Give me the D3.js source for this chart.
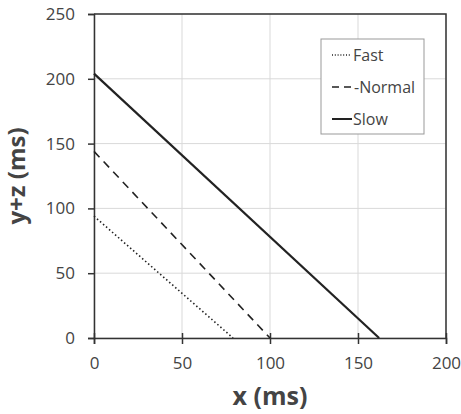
<!DOCTYPE html>
<html>
<head>
<meta charset="utf-8" />
<title>y+z vs x</title>
<script type="text/javascript" src="https://d3js.org/d3.v7.min.js"></script>
<style type="text/css">
    body { margin: 0; background: #fff; }
    text { font-family: "Open Sans", "Noto Sans", sans-serif; fill: #444; }
</style>
</head>
<body>
<svg width="461" height="414"></svg>
<script>
    // series: endpoints of each line
    var seriesNames = ["Fast", "Normal", "Slow"];
    var seriesX = [[0, 79], [0, 100], [0, 162]];
    var seriesY = [[94, 0], [144, 0], [204, 0]];
    var dashes = ["1.5,2.5", "8,6", null];

    var xTicks = [0, 50, 100, 150, 200];
    var yTicks = [0, 50, 100, 150, 200, 250];

    var svg = d3.select("svg");
    var pLeft = 94, pRight = 446, pTop = 14, pBottom = 338;

    var x = d3.scaleLinear().domain([0, 200]).range([pLeft, pRight]);
    var y = d3.scaleLinear().domain([0, 250]).range([pBottom, pTop]);

    // grid
    svg.append("g").selectAll("line").data(xTicks).enter().append("line")
        .attr("x1", d => x(d)).attr("x2", d => x(d))
        .attr("y1", pTop).attr("y2", pBottom)
        .attr("stroke", "#d9d9d9").attr("stroke-width", 1);
    svg.append("g").selectAll("line").data(yTicks).enter().append("line")
        .attr("x1", pLeft).attr("x2", pRight)
        .attr("y1", d => y(d)).attr("y2", d => y(d))
        .attr("stroke", "#d9d9d9").attr("stroke-width", 1);

    // frame (top + right)
    svg.append("path")
        .attr("d", "M" + pLeft + "," + pTop + "H" + pRight + "V" + pBottom)
        .attr("fill", "none").attr("stroke", "#333").attr("stroke-width", 1.5);

    // axes
    var xAxis = svg.append("g").attr("transform", "translate(0," + pBottom + ")")
        .call(d3.axisBottom(x).tickValues(xTicks).tickSize(6).tickPadding(13));
    var yAxis = svg.append("g").attr("transform", "translate(" + pLeft + ",0)")
        .call(d3.axisLeft(y).tickValues(yTicks).tickSize(6).tickPadding(13));
    [xAxis, yAxis].forEach(function(a) {
        a.select(".domain").attr("stroke", "#333").attr("stroke-width", 1.5);
        a.selectAll(".tick line").attr("stroke", "#333").attr("stroke-width", 1.5);
        a.selectAll("text").attr("font-size", 17).attr("fill", "#555")
            .attr("font-family", "\"Open Sans\", \"Noto Sans\", sans-serif");
    });
    // x ticks cross the axis line
    xAxis.selectAll(".tick").append("line")
        .attr("y1", 0).attr("y2", -5).attr("stroke", "#333").attr("stroke-width", 1.5);

    // lines
    var line = d3.line().x(d => x(d[0])).y(d => y(d[1]));
    seriesNames.forEach(function(name, i) {
        var pts = seriesX[i].map((v, j) => [v, seriesY[i][j]]);
        svg.append("path")
            .attr("d", line(pts))
            .attr("fill", "none")
            .attr("stroke", "#222")
            .attr("stroke-width", i == 2 ? 2.2 : 1.6)
            .attr("stroke-dasharray", dashes[i]);
    });

    // legend
    var lg = svg.append("g");
    lg.append("rect").attr("x", 321).attr("y", 39).attr("width", 103).attr("height", 95)
        .attr("fill", "#fff").attr("stroke", "#999").attr("stroke-width", 1);
    seriesNames.forEach(function(name, i) {
        var ly = 55 + i * 32;
        var len = i == 0 ? 19 : 20;
        lg.append("line").attr("x1", 332).attr("x2", 332 + len)
            .attr("y1", ly).attr("y2", ly)
            .attr("stroke", "#222").attr("stroke-width", i == 2 ? 2 : 1.4)
            .attr("stroke-dasharray", i == 0 ? "1,1.8" : (i == 1 ? "7,5" : null));
        lg.append("text").attr("x", i == 1 ? 354 : 353).attr("y", ly + 6)
            .attr("font-size", 16).attr("fill", "#444")
            .text(i == 1 ? "-" + name : name);
    });

    // axis titles
    svg.append("text").attr("x", (pLeft + pRight) / 2).attr("y", 405)
        .attr("text-anchor", "middle").attr("font-size", 25).attr("font-weight", "bold")
        .attr("fill", "#444").text("x (ms)");
    svg.append("text").attr("transform", "translate(25," + (pTop + pBottom) / 2 + ") rotate(-90)")
        .attr("text-anchor", "middle").attr("font-size", 24).attr("font-weight", "bold")
        .attr("fill", "#444").text("y+z (ms)");
</script>
</body>
</html>
